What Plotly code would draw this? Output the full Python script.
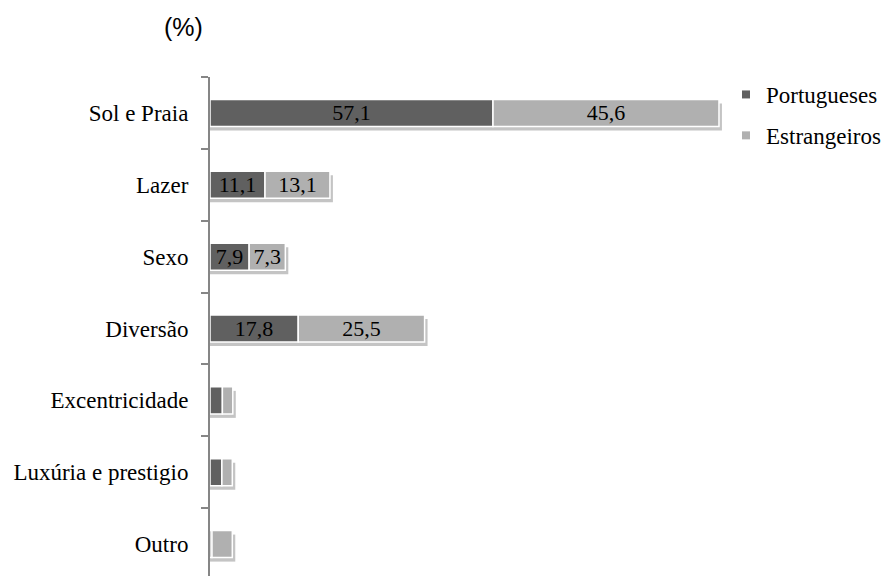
import plotly.graph_objects as go

categories = ["Sol e Praia", "Lazer", "Sexo", "Diversão", "Excentricidade",
              "Luxúria e prestigio", "Outro"]
portugueses = [57.1, 11.1, 7.9, 17.8, 2.5, 2.4, 0.4]
estrangeiros = [45.6, 13.1, 7.3, 25.5, 2.1, 2.1, 4.1]
series_names = ["Portugueses", "Estrangeiros"]
colors = ["#606060", "#b0b0b0"]

SERIF = "Liberation Serif, Times New Roman, serif"
PX_PER_UNIT = 4.956
PLOT_W = 885 - 210 - 5
PLOT_H = 576 - 77
BAR_W = 0.376
CAT_PX = PLOT_H / 6.944


def labels(vals):
    return [f"{v:.1f}".replace(".", ",") if v >= 5 else "" for v in vals]


totals = [p + e for p, e in zip(portugueses, estrangeiros)]

fig = go.Figure()
# soft shadow under each stacked bar
shadow_shift = 4 / CAT_PX
fig.add_trace(go.Bar(
    y=categories, x=[t + 0.6 for t in totals], orientation="h",
    width=BAR_W, offset=-BAR_W / 2 + shadow_shift,
    marker=dict(color="#c4c4c4", line=dict(width=0)),
    showlegend=False, hoverinfo="skip",
))

bases = [[0] * len(categories), portugueses]
for name, vals, col, base in zip(series_names, [portugueses, estrangeiros], colors, bases):
    fig.add_trace(go.Bar(
        y=categories, x=vals, base=base, orientation="h", name=name,
        width=BAR_W, offset=-BAR_W / 2,
        marker=dict(color=col, line=dict(color="white", width=1.5)),
        text=labels(vals), textposition="inside", insidetextanchor="middle",
        textangle=0, constraintext="none",
        insidetextfont=dict(family=SERIF, size=22, color="black"),
        showlegend=False, hoverinfo="skip",
    ))
    fig.add_trace(go.Scatter(
        x=[None], y=[None], mode="markers", name=name,
        marker=dict(symbol="square", size=8, color=col),
        legendgroup=name,
    ))

fig.update_layout(
    width=885, height=576,
    margin=dict(l=210, r=5, t=77, b=0, autoexpand=False),
    paper_bgcolor="white", plot_bgcolor="white",
    barmode="overlay",
    font=dict(family=SERIF, size=23, color="black"),
    showlegend=True,
    legend=dict(x=(726 - 210) / PLOT_W, xanchor="left",
                y=1 + 4 / PLOT_H, yanchor="top",
                font=dict(family=SERIF, size=23, color="black"),
                traceorder="grouped", tracegroupgap=8,
                bgcolor="rgba(0,0,0,0)", itemwidth=30),
    xaxis=dict(range=[0, PLOT_W / PX_PER_UNIT], visible=False, fixedrange=True),
    yaxis=dict(type="category", categoryorder="array", categoryarray=categories,
               range=[6.444, -0.5], showline=True, linecolor="#868686", linewidth=2,
               ticks="outside", ticklen=7, tickcolor="#868686", tickwidth=2,
               tickson="boundaries", showgrid=False, zeroline=False,
               ticklabelstandoff=15, automargin=False,
               tickfont=dict(family=SERIF, size=23, color="black")),
    annotations=[dict(text="(%)", xref="paper", yref="paper",
                      x=(183 - 210) / PLOT_W, y=(576 - 27) / PLOT_H,
                      xanchor="center", yanchor="middle", showarrow=False,
                      font=dict(family="Liberation Sans, Arial, sans-serif", size=25,
                                color="black"))],
)

fig.write_html("out.html", config={"displayModeBar": False},
               post_script="document.body.style.margin='0';")
